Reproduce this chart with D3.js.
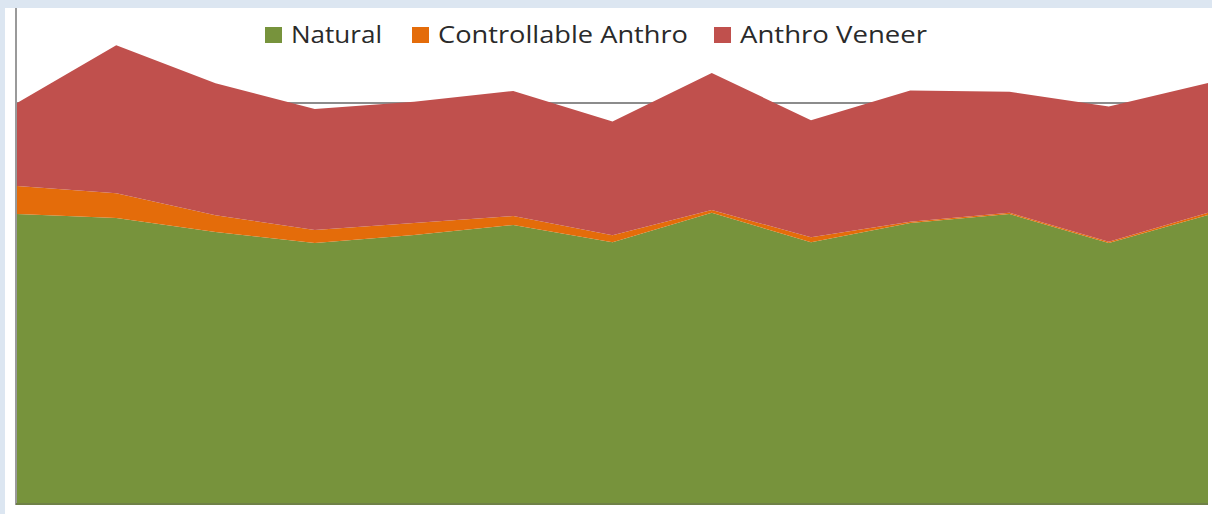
<!DOCTYPE html>
<html>
<head>
<meta charset="utf-8">
<script src="https://cdn.jsdelivr.net/npm/d3@7"></script>
<style>
  body { margin: 0; background: #dce6f1; }
  svg { display: block; }
</style>
</head>
<body>
<div id="chart"></div>
<script>
// stacked area: natural / controllable anthro / anthro veneer

var periods = [1, 2, 3, 4, 5, 6, 7, 8, 9, 10, 11, 12, 13];
var natural = [72.3, 71.3, 67.8, 65.1, 67.1, 69.6, 65.3, 72.6, 65.3, 70.1, 72.3, 65.1, 72.1];
var controllable = [7.0, 6.2, 4.2, 3.2, 3.0, 2.2, 1.7, 0.7, 1.2, 0.3, 0.3, 0.3, 0.5];
var veneer = [20.7, 36.9, 32.9, 30.2, 30.2, 31.2, 28.4, 34.2, 29.2, 32.7, 30.2, 33.7, 32.4];

var seriesNames = ["Natural", "Controllable Anthro", "Anthro Veneer"];
var colors = ["#77933c", "#e46c0a", "#c0504d"];
var yTicks = [100];

var width = 1212;
var height = 514;

var svg = d3.select("#chart").append("svg")
    .attr("width", width)
    .attr("height", height);

// frame
svg.append("rect")
  .attr("width", width)
  .attr("height", height)
  .attr("fill", "#dce6f1");

svg.append("rect")
  .attr("x", 5)
  .attr("y", 8)
  .attr("width", width - 5)
  .attr("height", height - 8)
  .attr("fill", "white");

var x = d3.scalePoint()
    .domain(periods)
    .range([17, 1208]);

var y = d3.scaleLinear()
    .domain([0, 100])
    .range([504, 103]);

// gridlines sit behind the areas
svg.append("g")
  .selectAll("line")
  .data(yTicks)
  .enter().append("line")
    .attr("x1", 17)
    .attr("x2", 1208)
    .attr("y1", function(d) { return y(d); })
    .attr("y2", function(d) { return y(d); })
    .attr("stroke", "#8c8c8c")
    .attr("stroke-width", 2);

var table = periods.map(function(p, i) {
  return { period: p, n: natural[i], c: controllable[i], v: veneer[i] };
});

var stack = d3.stack().keys(["n", "c", "v"]);
var layers = stack(table);

var area = d3.area()
    .x(function(d) { return x(d.data.period); })
    .y0(function(d) { return y(d[0]); })
    .y1(function(d) { return y(d[1]); });

svg.append("g")
  .selectAll("path")
  .data(layers)
  .enter().append("path")
    .attr("fill", function(d, i) { return colors[i]; })
    .attr("d", area);

// axis lines
svg.append("line")
  .attr("x1", 16).attr("x2", 16)
  .attr("y1", 8).attr("y2", 505)
  .attr("stroke", "#9a9a9a")
  .attr("stroke-width", 2);

svg.append("line")
  .attr("x1", 16).attr("x2", 1208)
  .attr("y1", 504).attr("y2", 504)
  .attr("stroke", "#6f8147")
  .attr("stroke-width", 2);

// legend
var legendX = [265, 412, 714];
var legendW = [91, 250, 187];

var legend = svg.append("g")
  .selectAll("g")
  .data(seriesNames)
  .enter().append("g")
    .attr("transform", function(d, i) { return "translate(" + legendX[i] + ",27)"; });

legend.append("rect")
  .attr("width", 17)
  .attr("height", 16)
  .attr("fill", function(d, i) { return colors[i]; });

legend.append("text")
  .attr("x", 26)
  .attr("y", 16)
  .attr("font-family", "Open Sans, sans-serif")
  .attr("font-size", "24px")
  .attr("fill", "#2a2a2a")
  .attr("textLength", function(d, i) { return legendW[i]; })
  .attr("lengthAdjust", "spacingAndGlyphs")
  .text(function(d) { return d; });
</script>
</body>
</html>
